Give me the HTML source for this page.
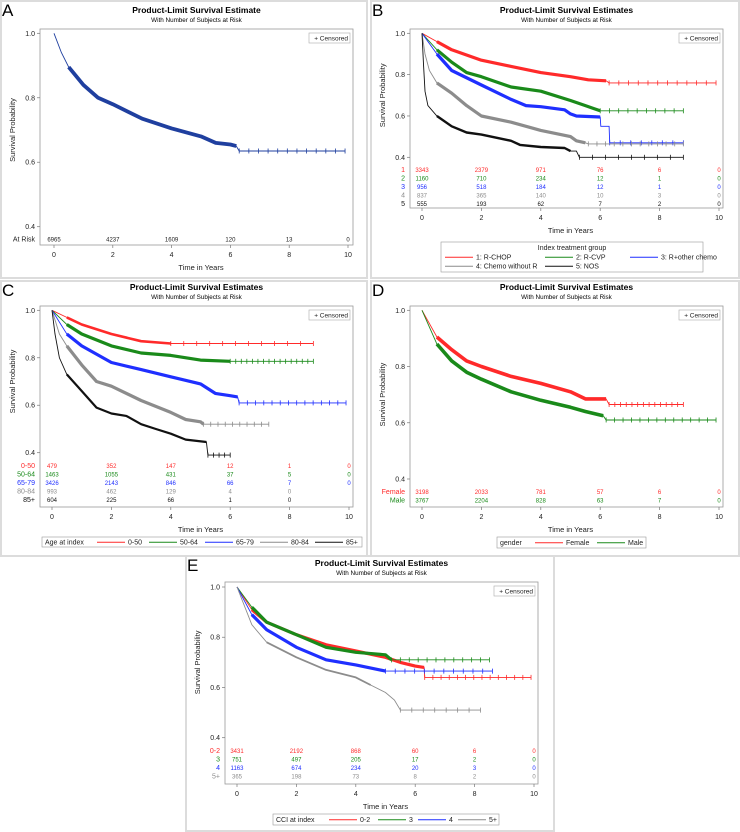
<!DOCTYPE html>
<html><head><meta charset="utf-8"><style>
html,body{margin:0;padding:0;background:#fff;}
svg{display:block;font-family:"Liberation Sans",Arial,sans-serif;}
</style></head><body>
<svg id="fig" width="740" height="832" viewBox="0 0 740 832" xmlns="http://www.w3.org/2000/svg"></svg>
<script>
// ===== DATA =====
const xTicks = [0,2,4,6,8,10];
const yTicks = [0.4,0.6,0.8,1.0];
const yTickLabels = ["0.4","0.6","0.8","1.0"];
// Panel A
const aT = [0,0.25,0.5,1,1.5,2,3,4,5,5.5,6,6.2,6.3,9.9];
const aS = [1,0.94,0.895,0.84,0.80,0.78,0.735,0.705,0.68,0.66,0.655,0.65,0.635,0.635];
const aCens = [6.4,6.6,6.8,7,7.3,7.5,7.8,8.1,8.4,8.6,8.8,9.9];
const aRisk = [6965,4237,1609,120,13,0];
// Panel B
const b1T=[0,0.5,1,2,3,4,5,5.6,6.2,6.3,9.9], b1S=[1,0.96,0.92,0.87,0.84,0.81,0.79,0.775,0.77,0.76,0.76];
const b2T=[0,0.5,1,1.5,2,3,4,5,5.5,5.8,6.0,8.8], b2S=[1,0.92,0.86,0.81,0.79,0.74,0.72,0.675,0.65,0.635,0.625,0.625];
const b3T=[0,0.5,1,2,3,3.5,4,4.8,5,5.2,6,6.02,6.3,6.32,8.8], b3S=[1,0.90,0.82,0.75,0.68,0.65,0.645,0.63,0.61,0.60,0.595,0.55,0.55,0.47,0.47];
const b4T=[0,0.1,0.25,0.5,1,1.5,2,3,4,5,5.2,5.5,5.6,8.8], b4S=[1,0.9,0.82,0.76,0.71,0.65,0.60,0.57,0.53,0.50,0.48,0.47,0.465,0.465];
const b5T=[0,0.05,0.1,0.2,0.5,1,1.5,2,3,3.3,4,4.8,5,5.2,5.3,8.8], b5S=[1,0.85,0.72,0.65,0.60,0.55,0.52,0.51,0.48,0.46,0.45,0.445,0.43,0.43,0.40,0.40];
const bRisk1=[3343,2379,971,76,6,0], bRisk2=[1160,710,234,12,1,0], bRisk3=[956,518,184,12,1,0], bRisk4=[837,365,140,10,3,0], bRisk5=[555,193,62,7,2,0];
// Panel C
const c1T=[0,0.5,1,2,3,4,8.8], c1S=[1,0.97,0.94,0.90,0.87,0.86,0.86];
const c2T=[0,0.5,1,2,3,4,5,6,8.8], c2S=[1,0.94,0.90,0.85,0.82,0.81,0.79,0.785,0.785];
const c3T=[0,0.5,1,2,3,4,5,5.5,6,6.25,6.3,9.9], c3S=[1,0.90,0.85,0.78,0.75,0.72,0.69,0.65,0.64,0.635,0.61,0.61];
const c4T=[0,0.25,0.5,1,1.5,2,3,4,4.5,5,5.1,7.3], c4S=[1,0.9,0.85,0.77,0.70,0.68,0.62,0.57,0.54,0.53,0.52,0.52];
const c5T=[0,0.1,0.25,0.5,1,1.5,2,2.5,3,3.5,4,4.5,5.2,5.25,6], c5S=[1,0.90,0.80,0.73,0.66,0.59,0.565,0.555,0.52,0.50,0.48,0.455,0.445,0.39,0.39];
const cRisk1=[479,352,147,12,1,0], cRisk2=[1463,1055,431,37,5,0], cRisk3=[3426,2143,846,66,7,0], cRisk4=[993,462,129,4,0,null], cRisk5=[604,225,66,1,0,null];
// Panel D
const d1T=[0,0.5,1,1.5,2,3,4,5,5.5,6.2,6.3,8.8], d1S=[1,0.905,0.86,0.82,0.80,0.765,0.74,0.71,0.685,0.685,0.665,0.665];
const d2T=[0,0.5,1,1.5,2,3,4,5,5.5,6.1,6.2,9.9], d2S=[1,0.88,0.82,0.78,0.755,0.71,0.68,0.655,0.64,0.625,0.61,0.61];
const dRisk1=[3198,2033,781,57,6,0], dRisk2=[3767,2204,828,63,7,0];
// Panel E
const e1T=[0,0.5,1,2,3,4,5,5.5,6,6.3,6.32,9.9], e1S=[1,0.91,0.86,0.81,0.77,0.745,0.72,0.70,0.685,0.68,0.64,0.64];
const e2T=[0,0.5,1,2,3,4,5,5.2,8.5], e2S=[1,0.92,0.86,0.81,0.76,0.74,0.73,0.71,0.71];
const e3T=[0,0.5,1,2,3,4,5,8.6], e3S=[1,0.89,0.83,0.76,0.71,0.69,0.665,0.665];
const e4T=[0,0.5,1,2,3,4,4.5,5,5.3,5.5,8.2], e4S=[1,0.85,0.78,0.72,0.67,0.64,0.61,0.58,0.55,0.51,0.51];
const eRisk1=[3431,2192,868,60,6,0], eRisk2=[751,497,205,17,2,0], eRisk3=[1163,674,234,20,3,0], eRisk4=[365,198,73,8,2,0];

// ===== DRAWING =====
const NS="http://www.w3.org/2000/svg";
const svg=document.getElementById('fig');
function mk(tag,attrs,parent,text){const e=document.createElementNS(NS,tag);for(const k in attrs)e.setAttribute(k,attrs[k]);if(text!==undefined)e.textContent=text;(parent||svg).appendChild(e);return e;}
const RED="#ff2a2a",GRN="#1a8a1a",BLU="#1f2fff",GRY="#8c8c8c",BLK="#111",NAVY="#1f3f9f";

function panel(cfg){
  const g=mk('g',{});
  
  
  const fr=mk('rect',{x:cfg.box[0],y:cfg.box[1],width:cfg.box[2],height:cfg.box[3],fill:'none',stroke:'#dcdcdc','stroke-width':2},g);
  
  const L=mk('text',{x:cfg.box[0]+1,y:cfg.box[1]+15,'font-size':17,fill:'#000'},g,cfg.id);
  
  const X=t=>cfg.x0+(cfg.x10-cfg.x0)*t/10;
  const Y=s=>cfg.y1+(cfg.y04-cfg.y1)*(1-s)/0.6;
  const cx=(cfg.left+cfg.right)/2;
  const t1=mk('text',{x:cx,y:cfg.titleY,'font-size':8.5,'font-weight':'bold','text-anchor':'middle'},g,cfg.title);
  
  const t2=mk('text',{x:cx,y:cfg.titleY+9,'font-size':6.3,'text-anchor':'middle'},g,'With Number of Subjects at Risk');
  
  const f=mk('rect',{x:cfg.left,y:cfg.top,width:cfg.right-cfg.left,height:cfg.bottom-cfg.top,fill:'none',stroke:'#9a9a9a','stroke-width':0.8},g);
  
  yTicks.forEach((v,i)=>{
    const tk=mk('line',{x1:cfg.left-3,x2:cfg.left,y1:Y(v),y2:Y(v),stroke:'#777','stroke-width':0.7},g);
    
    const tl=mk('text',{x:cfg.left-5,y:Y(v)+2.5,'font-size':7,'text-anchor':'end',fill:'#222'},g,yTickLabels[i]);
    
  });
  const yt=mk('text',{x:0,y:0,'font-size':7.5,'text-anchor':'middle',transform:`translate(${cfg.left-25},${(Y(1)+Y(0.4))/2}) rotate(-90)`,fill:'#222'},g,'Survival Probability');
  
  xTicks.forEach(v=>{
    const tk=mk('line',{x1:X(v),x2:X(v),y1:cfg.bottom,y2:cfg.bottom+3,stroke:'#777','stroke-width':0.7},g);
    
    const tl=mk('text',{x:X(v),y:cfg.bottom+12,'font-size':7,'text-anchor':'middle',fill:'#222'},g,String(v));
    
  });
  const xt=mk('text',{x:X(5),y:cfg.bottom+25,'font-size':7.5,'text-anchor':'middle',fill:'#222'},g,'Time in Years');
  
  // censored legend
  const cl=mk('rect',{x:cfg.right-44,y:cfg.top+4,width:41,height:10,fill:'#fff',stroke:'#aaa','stroke-width':0.6},g);
  
  const ct=mk('text',{x:cfg.right-5,y:cfg.top+11.5,'font-size':6.5,'text-anchor':'end',fill:'#222'},g,'+ Censored');
  
  // series
  cfg.series.forEach((s,si)=>{
    const pts=s.t.map((t,i)=>X(t).toFixed(1)+','+Y(s.s[i]).toFixed(1)).join(' ');
    const ln=mk('polyline',{points:pts,fill:'none',stroke:s.color,'stroke-width':0.9},g);
    
    // dense censor band
    const bandPts=[];
    s.t.forEach((t,i)=>{if(t>=s.band[0]&&t<=s.band[1])bandPts.push(X(t).toFixed(1)+','+Y(s.s[i]).toFixed(1));});
    if(bandPts.length>1){
      const bd=mk('polyline',{points:bandPts.join(' '),fill:'none',stroke:s.color,'stroke-width':s.bw||3.2,'stroke-linejoin':'round'},g);
      
    }
    // sparse censor marks on flat tail
    const last=s.s[s.s.length-1], lastT=s.t[s.t.length-1];
    const tail=s.t[s.t.length-2];
    const marks=[];
    for(let k=0;k<s.ncens;k++){marks.push(tail+(lastT-tail)*(k/(Math.max(1,s.ncens-1))));}
    marks.forEach(m=>{
      const mm=mk('path',{d:`M${X(m)},${Y(last)-2.5}v5`,stroke:s.color,'stroke-width':0.8},g);
      
    });
    // risk row
    const ry=cfg.riskY[si];
    const rl=mk('text',{x:cfg.left-5,y:ry,'font-size':7,'text-anchor':'end',fill:s.rcolor||s.color},g,s.label);
    
    s.risk.forEach((v,i)=>{if(v===null)return;
      const rt=mk('text',{x:X(xTicks[i]),y:ry,'font-size':6,'text-anchor':'middle',fill:s.rcolor||s.color},g,String(v));
      
    });
  });
  // legend
  if(cfg.legend){
    const lg=cfg.legend;
    const lb=mk('rect',{x:lg.x,y:lg.y,width:lg.w,height:lg.h,fill:'#fff',stroke:'#999','stroke-width':0.6},g);
    
    if(lg.title){const tt=mk('text',{x:lg.tx,y:lg.ty,'font-size':7,'text-anchor':lg.tanchor||'start',fill:'#222'},g,lg.title);
      }
    lg.items.forEach(it=>{
      const l=mk('line',{x1:it.x,x2:it.x+it.lw,y1:it.y-2.3,y2:it.y-2.3,stroke:it.color,'stroke-width':1},g);
      
      const t=mk('text',{x:it.x+it.lw+3,y:it.y,'font-size':7,fill:'#222'},g,it.text);
      
    });
  }
}

// Panel A
panel({id:'A',title:'Product-Limit Survival Estimate',box:[1,1,366,277],titleY:13,left:40,top:29,right:353,bottom:245,x0:54,x10:348,y1:33.3,y04:226.7,riskY:[241.5],
  series:[{key:'all',t:aT,s:aS,color:NAVY,band:[0.5,6.2],bw:3.8,ncens:aCens.length,risk:aRisk,label:'At Risk',rcolor:'#222'}]});
// A risk label style is different: draw tick count tweak handled by label
// Panel B
panel({id:'B',title:'Product-Limit Survival Estimates',box:[371,1,368,277],titleY:13,left:410,top:29,right:723,bottom:208,x0:422,x10:719,y1:33.3,y04:157.3,riskY:[172,180.5,189,197.5,206],
  series:[
   {key:'r-chop',t:b1T,s:b1S,color:RED,band:[0.5,6.2],ncens:12,risk:bRisk1,label:'1'},
   {key:'r-cvp',t:b2T,s:b2S,color:GRN,band:[0.5,6.0],ncens:10,risk:bRisk2,label:'2'},
   {key:'r-other',t:b3T,s:b3S,color:BLU,band:[0.5,6.0],ncens:8,risk:bRisk3,label:'3'},
   {key:'chemo-no-r',t:b4T,s:b4S,color:GRY,band:[0.5,5.5],ncens:12,risk:bRisk4,label:'4'},
   {key:'nos',t:b5T,s:b5S,color:BLK,band:[0.5,5.0],bw:2.4,ncens:9,risk:bRisk5,label:'5'}],
  legend:{x:441,y:242,w:262,h:30,title:'Index treatment group',tx:572,ty:250,tanchor:'middle',items:[
   {x:445,y:259.5,lw:28,color:RED,text:'1: R-CHOP'},{x:545,y:259.5,lw:28,color:GRN,text:'2: R-CVP'},{x:630,y:259.5,lw:28,color:BLU,text:'3: R+other chemo'},
   {x:445,y:268.5,lw:28,color:GRY,text:'4: Chemo without R'},{x:545,y:268.5,lw:28,color:BLK,text:'5: NOS'}]}});
// Panel C
panel({id:'C',title:'Product-Limit Survival Estimates',box:[1,281,366,275],titleY:290,left:40,top:306,right:353,bottom:507,x0:52,x10:349,y1:310.3,y04:452.7,riskY:[468,476.5,485,493.5,502],
  series:[
   {key:'age-0-50',t:c1T,s:c1S,color:RED,band:[0.5,4.5],bw:2.6,ncens:12,risk:cRisk1,label:'0-50'},
   {key:'age-50-64',t:c2T,s:c2S,color:GRN,band:[0.5,6.0],ncens:16,risk:cRisk2,label:'50-64'},
   {key:'age-65-79',t:c3T,s:c3S,color:BLU,band:[0.5,6.25],ncens:14,risk:cRisk3,label:'65-79'},
   {key:'age-80-84',t:c4T,s:c4S,color:GRY,band:[0.5,5.1],ncens:10,risk:cRisk4,label:'80-84'},
   {key:'age-85',t:c5T,s:c5S,color:BLK,band:[0.5,5.2],bw:2.2,ncens:5,risk:cRisk5,label:'85+'}],
  legend:{x:42,y:537,w:320,h:10,title:'Age at index',tx:45,ty:544.5,items:[
   {x:97,y:544.5,lw:28,color:RED,text:'0-50'},{x:149,y:544.5,lw:28,color:GRN,text:'50-64'},{x:205,y:544.5,lw:28,color:BLU,text:'65-79'},
   {x:260,y:544.5,lw:28,color:GRY,text:'80-84'},{x:315,y:544.5,lw:28,color:BLK,text:'85+'}]}});
// Panel D
panel({id:'D',title:'Product-Limit Survival Estimates',box:[371,281,368,275],titleY:290,left:410,top:306,right:723,bottom:507,x0:422,x10:719,y1:310.3,y04:479,riskY:[494,502.5],
  series:[
   {key:'female',t:d1T,s:d1S,color:RED,band:[0.5,6.2],bw:3.6,ncens:14,risk:dRisk1,label:'Female'},
   {key:'male',t:d2T,s:d2S,color:GRN,band:[0.5,6.1],bw:3.6,ncens:14,risk:dRisk2,label:'Male'}],
  legend:{x:497,y:537,w:149,h:11,title:'gender',tx:500,ty:545,items:[
   {x:535,y:545,lw:28,color:RED,text:'Female'},{x:597,y:545,lw:28,color:GRN,text:'Male'}]}});
// Panel E
panel({id:'E',title:'Product-Limit Survival Estimates',box:[186,556,368,275],titleY:566,left:225,top:582,right:538,bottom:784,x0:237,x10:534,y1:587,y04:737.7,riskY:[753,761.5,770,778.5],
  series:[
   {key:'cci-0-2',t:e1T,s:e1S,color:RED,band:[0.5,6.3],ncens:14,risk:eRisk1,label:'0-2'},
   {key:'cci-3',t:e2T,s:e2S,color:GRN,band:[0.5,5.2],ncens:12,risk:eRisk2,label:'3'},
   {key:'cci-4',t:e3T,s:e3S,color:BLU,band:[0.5,5.0],ncens:12,risk:eRisk3,label:'4'},
   {key:'cci-5',t:e4T,s:e4S,color:GRY,band:[0.6,4.5],bw:1.8,ncens:8,risk:eRisk4,label:'5+'}],
  legend:{x:273,y:814,w:226,h:11,title:'CCI at index',tx:276,ty:822,items:[
   {x:329,y:822,lw:28,color:RED,text:'0-2'},{x:378,y:822,lw:28,color:GRN,text:'3'},{x:418,y:822,lw:28,color:BLU,text:'4'},{x:458,y:822,lw:28,color:GRY,text:'5+'}]}});
</script>
</body></html>
